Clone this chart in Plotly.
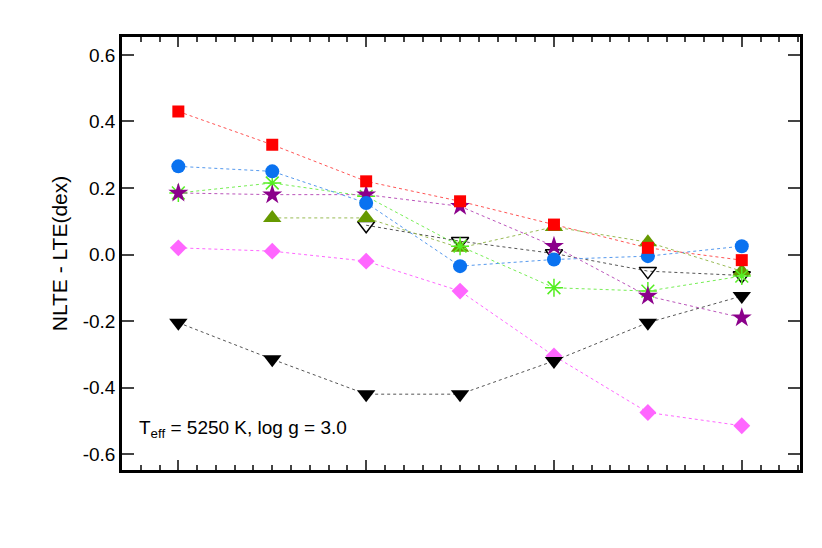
import plotly.graph_objects as go

x = [0, 0.5, 1.0, 1.5, 2.0, 2.5, 3.0]
red_sq = [0.43, 0.33, 0.22, 0.16, 0.09, 0.02, -0.017]
blue_ci = [0.265, 0.25, 0.155, -0.035, -0.015, -0.005, 0.025]
purple_star = [0.185, 0.18, 0.18, 0.145, 0.025, -0.125, -0.19]
green_ast = [0.185, 0.215, 0.175, 0.025, -0.10, -0.11, -0.065]
olive_tri = [None, 0.11, 0.11, 0.02, 0.083, 0.037, -0.05]
open_tri = [None, None, 0.088, 0.04, 0.003, -0.05, -0.063]
black_tri = [-0.205, -0.315, -0.42, -0.42, -0.32, -0.205, -0.125]
magenta_dia = [0.02, 0.01, -0.02, -0.11, -0.305, -0.475, -0.515]

series = [
    (magenta_dia, "#ff66ff", "diamond", 13, "#ff66ff", 1),
    (black_tri, "#000000", "triangle-down", 16, "#555555", 1),
    (open_tri, "#000000", "triangle-down-open", 15, "#555555", 1),
    (olive_tri, "#669900", "triangle-up", 16, "#99bb55", 1),
    (green_ast, "#55ee22", "asterisk-open", 15, "#77ee55", 1),
    (purple_star, "#8b008b", "star", 15, "#bb55bb", 1),
    (blue_ci, "#0a72f0", "circle", 14, "#5599ee", 1),
    (red_sq, "#ff0000", "square", 12, "#ff5555", 1),
]

fig = go.Figure()
for ys, mc, sym, sz, lc, lw in series:
    fig.add_trace(go.Scatter(
        x=x, y=ys, mode="lines+markers", connectgaps=False,
        marker=dict(symbol=sym, size=sz, color=mc, line=dict(width=1.5 if "open" in sym else 0, color=mc)),
        line=dict(color=lc, width=lw, dash="dot"), showlegend=False))

fig.add_annotation(x=0.022, y=0.095, xref="paper", yref="paper", xanchor="left", yanchor="middle",
                   text="T<sub>eff</sub> = 5250 K, log g = 3.0", showarrow=False,
                   font=dict(size=19, color="black", family="Liberation Sans"))

fig.update_layout(
    width=822, height=548, plot_bgcolor="white", paper_bgcolor="white",
    margin=dict(l=114, r=30, t=29, b=86),
    font=dict(family="Liberation Sans", size=19, color="black"),
    xaxis=dict(range=[-0.3, 3.31], tickvals=[0, 1, 2, 3], showticklabels=False,
               ticks="inside", ticklen=10, tickwidth=1.5, tickcolor="#444",
               minor=dict(dtick=0.1, ticks="inside", ticklen=5, tickcolor="#444"),
               showline=True, linewidth=2.5, linecolor="black", mirror="ticks",
               showgrid=False, zeroline=False),
    yaxis=dict(range=[-0.648, 0.654], tickvals=[-0.6, -0.4, -0.2, 0, 0.2, 0.4, 0.6],
               ticktext=["-0.6", "-0.4", "-0.2", "0.0", "0.2", "0.4", "0.6"],
               ticks="inside", ticklen=12, tickwidth=1.5, tickcolor="#444",
               showline=True, linewidth=2.5, linecolor="black", mirror="ticks",
               showgrid=False, zeroline=False,
               title=dict(text="NLTE - LTE(dex)", standoff=10, font=dict(size=21))),
)

fig.write_html("out.html")
